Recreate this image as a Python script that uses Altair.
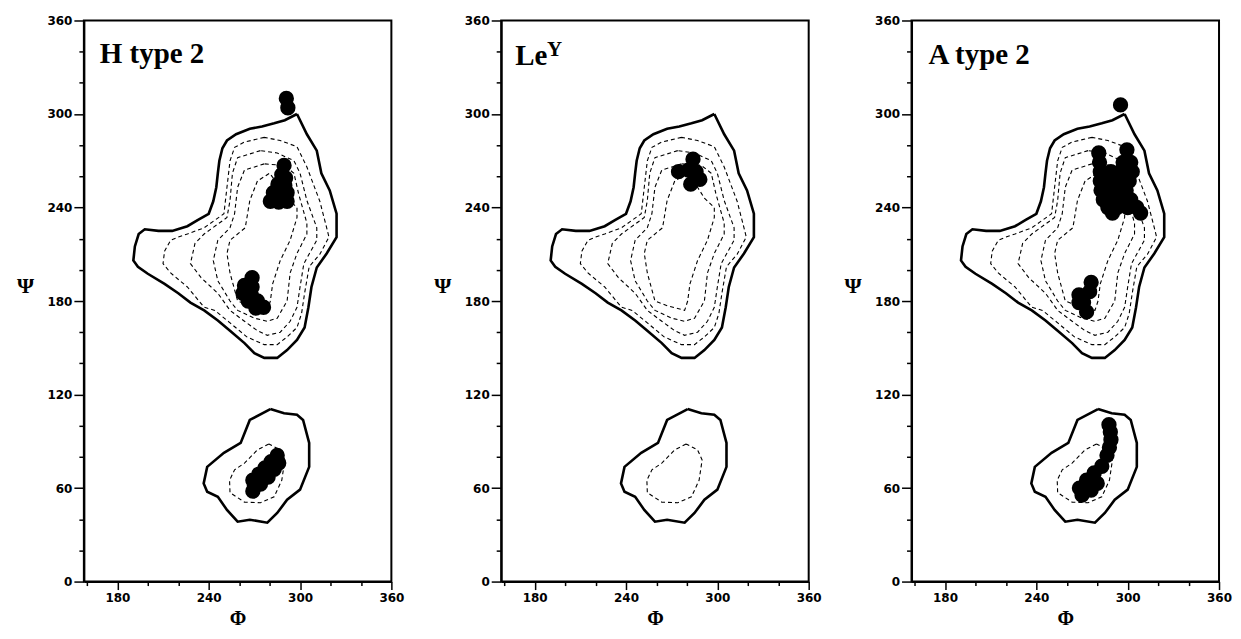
import altair as alt
import pandas as pd

# ---------------- contour lines (phi, psi), shared by all panels ----------------
upper_outer_phi = [298, 290, 283, 275, 267, 258, 252, 249, 247, 246, 245, 243, 240, 233, 226, 216, 207, 198,
                   194, 191.5, 190.5, 193.5, 200, 211, 220, 228, 237, 246, 254, 263.5, 270, 276.5, 285, 291.5,
                   298, 303, 305.5, 307.5, 311, 317.5, 324, 324, 319.5, 314, 311, 304.5, 298]
upper_outer_psi = [300, 296, 294, 292, 290.5, 287, 283, 278, 270, 262, 253, 244, 236, 232, 228, 225, 225, 226,
                   223, 215, 206, 202, 197.5, 191, 185, 179, 174, 167.5, 161, 153, 146.5, 143.5, 143.5, 148.5,
                   155, 163, 176, 189, 201.5, 210.5, 221, 236, 251, 262, 276.5, 287, 300]

dash1_phi = [276.5, 263.5, 257, 254, 252, 250, 237, 226, 220, 215, 211, 210, 215, 226, 237, 244, 254, 265,
             276.5, 285, 291.5, 298, 301, 303, 306, 313, 319, 317.5, 313, 304.5, 298, 287, 276.5]
dash1_psi = [285, 282, 278.6, 270, 253, 236, 227, 223, 221, 219, 212, 204, 198, 189, 176, 174, 166, 157,
             152, 152, 157, 163, 172, 185, 202, 210, 221, 227, 244, 266, 279, 283, 285]

dash2_phi = [274, 259, 255.6, 254, 252, 237, 231, 228, 235, 246, 254, 263.5, 272, 278.5, 287, 293.5, 298,
             300, 302.5, 311, 311, 304.5, 300, 296, 285, 274]
dash2_psi = [276.5, 272, 262, 244.5, 233.6, 223, 217, 204, 195, 185, 174, 167, 161, 158, 160, 167, 176,
             189, 204, 219, 227, 244.5, 262, 270, 275, 276.5]

dash3_phi = [276.5, 263.5, 259, 257, 254, 246, 243, 246, 254, 259, 270, 278.5, 285, 291.5, 293.5, 298,
             304.5, 304.5, 299, 296, 289.5, 276.5]
dash3_psi = [268, 264, 253, 236, 227, 219, 206, 193, 180, 174, 169, 167, 169, 180, 198, 210.5, 223, 230,
             249, 262, 267, 268]

dash4_phi = [272, 267, 264, 254, 252, 254, 259, 267, 278.5, 280.5, 282, 287, 293.5, 298, 298, 291.5, 287,
             280, 272]
dash4_psi = [257, 244.5, 227, 219, 210.5, 198, 180, 177, 174, 180, 191, 206, 219, 233.6, 240, 246, 253,
             262, 257]

lower_outer_phi = [280.5, 267, 261, 250, 239, 236.7, 239, 246, 252, 259, 267, 278.5, 285, 291.5, 300, 306,
                   306, 302, 298, 289.5, 280.5]
lower_outer_psi = [110.7, 103.7, 89, 82.6, 73.6, 63, 57.6, 54.4, 46, 38.4, 39.7, 37.8, 44, 52.5, 59, 73.6,
                   89, 103.7, 107, 108, 110.7]

lower_dash_phi = [279.5, 272, 263.5, 257, 253.7, 254, 263.5, 274, 283, 288, 290, 287, 279.5]
lower_dash_psi = [88.3, 84.5, 76, 71.7, 65, 57, 51, 50.6, 54.4, 65, 78, 84.5, 88.3]

# ---------------- conformer points per panel ----------------
h2_phi = [291, 292,
          289.5, 288, 290.5, 285.5, 290, 282.5, 287, 291.5, 280.5, 286, 291.5,
          268.5, 263.5, 268.5, 262.5, 268, 272, 276, 271, 266,
          285, 281, 277, 273, 269, 269, 274, 279, 283, 286, 270]
h2_psi = [310, 304,
          267, 261, 259, 255, 254, 249.5, 249.5, 249.5, 244, 243.5, 244,
          195, 190, 189, 185, 184, 180, 176, 175.5, 180,
          81, 77, 73, 69, 65, 58, 62.5, 67, 72, 76, 61.5]

ley_phi = [284, 274.5, 281, 288.5, 282.5, 286]
ley_psi = [271, 263, 264, 258, 255, 263]

a2_phi = [295.3,
          281, 299.5,
          281.5, 297, 302,
          282, 289, 295, 303,
          282, 288, 294, 301,
          282.5, 288, 294, 299,
          284, 290, 296, 302,
          287, 293, 300, 306,
          290, 308.5,
          276, 268, 273, 275, 271, 268,
          287.7, 288.6, 289, 288, 286.4, 283, 278, 273, 268.3, 270, 276, 280]
a2_psi = [305.8,
          275, 277,
          269, 269, 269,
          263, 263, 263, 263,
          257, 257, 257, 257,
          251, 251, 251, 251,
          245, 245, 245, 245,
          240, 240, 240, 240,
          236.5, 236.5,
          192, 184, 173, 186, 179, 179,
          100.6, 96, 91, 86, 81, 74, 69.7, 65, 60, 55.5, 58.7, 63]

panel_titles = ["H type 2", "Le", "A type 2"]
x_ticks = list(range(160, 361, 20))
y_ticks = list(range(0, 361, 20))


def contour_frame():
    rows = []
    sets = [("uo", "solid", upper_outer_phi, upper_outer_psi),
            ("d1", "dashed", dash1_phi, dash1_psi),
            ("d2", "dashed", dash2_phi, dash2_psi),
            ("d3", "dashed", dash3_phi, dash3_psi),
            ("d4", "dashed", dash4_phi, dash4_psi),
            ("lo", "solid", lower_outer_phi, lower_outer_psi),
            ("ld", "dashed", lower_dash_phi, lower_dash_psi)]
    for cid, kind, ph, ps in sets:
        for i, (a, b) in enumerate(zip(ph, ps)):
            rows.append({"cid": cid, "kind": kind, "idx": i, "phi": a, "psi": b})
    return pd.DataFrame(rows)


cont = contour_frame()

major_test = "datum.value % 60 == 0"
x_axis = alt.Axis(values=x_ticks, title="Φ", grid=False,
                  labelExpr=f"{major_test} ? datum.label : ''",
                  tickSize={"condition": {"test": major_test, "value": 8}, "value": 4},
                  labelFlush=False, labelPadding=3, titlePadding=5, titleFontSize=20)
y_axis = alt.Axis(values=y_ticks, title="Ψ", grid=False,
                  labelExpr=f"{major_test} ? datum.label : ''",
                  tickSize={"condition": {"test": major_test, "value": 10}, "value": 5},
                  labelFlush=False, labelPadding=2, titleAngle=0, titleX=-59, titleY=265,
                  titleAlign="center", titleBaseline="middle")

X = alt.X("phi:Q", scale=alt.Scale(domain=[158, 360], nice=False, zero=False), axis=x_axis)
Y = alt.Y("psi:Q", scale=alt.Scale(domain=[0, 360], nice=False, zero=False), axis=y_axis)

W, H = 308, 562


def panel(dphi, dpsi, title_layers):
    solid = alt.Chart(cont).transform_filter(alt.datum.kind == "solid").mark_line(
        color="black", strokeWidth=2.6).encode(x=X, y=Y, detail="cid:N", order="idx:Q")
    dashed = alt.Chart(cont).transform_filter(alt.datum.kind == "dashed").mark_line(
        color="black", strokeWidth=1.1, strokeDash=[4, 3]).encode(x=X, y=Y, detail="cid:N", order="idx:Q")
    dots = alt.Chart(pd.DataFrame({"phi": dphi, "psi": dpsi})).mark_circle(
        size=235, color="black", opacity=1).encode(x=X, y=Y)
    return alt.layer(solid, dashed, dots, *title_layers).properties(width=W, height=H)


def title_text(txt, x, y, size=29):
    return alt.Chart(pd.DataFrame({"t": [txt]})).mark_text(
        font="Liberation Serif", fontWeight="bold", fontSize=size, align="left",
        baseline="alphabetic", color="black").encode(text="t:N", x=alt.value(x), y=alt.value(y))


p1 = panel(h2_phi, h2_psi, [title_text(panel_titles[0], 16, 43)])
p2 = panel(ley_phi, ley_psi, [title_text(panel_titles[1], 14, 45), title_text("Y", 46, 36, 21)])
p3 = panel(a2_phi, a2_psi, [title_text(panel_titles[2], 17, 44)])

chart = alt.hconcat(alt.hconcat(p1, p2, spacing=27), p3, spacing=20).properties(
    padding={"left": 7, "top": 5, "right": 0, "bottom": 0}
).configure_view(stroke="black", strokeWidth=2).configure_axis(
    domainColor="black", domainWidth=2, tickColor="black", tickWidth=1.5,
    labelFont="DejaVu Sans", labelFontWeight="bold", labelFontSize=12, labelColor="black",
    titleFont="Liberation Serif", titleFontWeight="bold", titleFontSize=22, titleColor="black")

chart.save("out.html", embed_options={"renderer": "svg", "actions": False})
